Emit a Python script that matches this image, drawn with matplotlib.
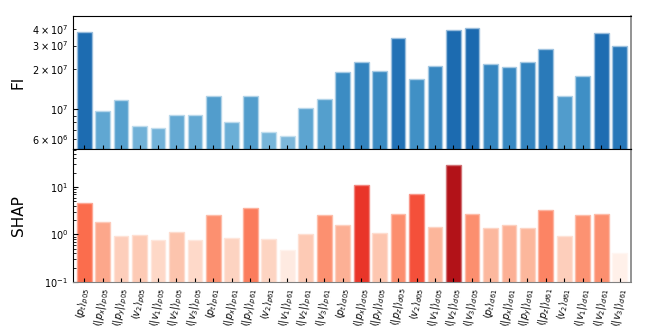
import matplotlib
matplotlib.use('Agg')

import matplotlib.pyplot as plt
import matplotlib.colors as mcolors
import numpy as np

# feature names: observable, then subscript
obs = ['p_t', '|p_x|', '|p_y|', 'v_2', '|v_1|', '|v_2|', '|v_3|',
       'p_t', '|p_x|', '|p_y|', 'v_2', '|v_1|', '|v_2|', '|v_3|',
       'p_t', '|p_x|', '|p_y|', '|p_z|', 'v_2', '|v_1|', '|v_2|', '|v_3|',
       'p_t', '|p_x|', '|p_y|', '|p_z|', 'v_2', '|v_1|', '|v_2|', '|v_3|']
subs = ['p05'] * 7 + ['p61'] * 7 + ['d05'] * 8 + ['d61'] * 8
labels = [r'$\langle %s\rangle_{%s}$' % (o, s) for o, s in zip(obs, subs)]

fi = [3.77e7, 9.66e6, 1.17e7, 7.45e6, 7.28e6, 9.12e6, 9.01e6,
      1.26e7, 8.03e6, 1.26e7, 6.8e6, 6.34e6, 1.03e7, 1.195e7,
      1.89e7, 2.28e7, 1.94e7, 3.42e7, 1.70e7, 2.12e7, 3.93e7, 4.09e7,
      2.17e7, 2.07e7, 2.26e7, 2.83e7, 1.27e7, 1.77e7, 3.71e7, 2.96e7]
shap = [4.68, 1.79, 0.91, 0.99, 0.78, 1.10, 0.76,
        2.61, 0.85, 3.67, 0.82, 0.48, 1.0, 2.61,
        1.55, 10.9, 1.07, 2.74, 7.11, 1.41, 28.8, 2.69,
        1.36, 1.55, 1.39, 3.22, 0.91, 2.56, 2.65, 0.40]

x = np.arange(len(labels))


def lognorm(v):
    v = np.log(np.array(v))
    return (v - v.min()) / (v.max() - v.min())


def lighten(c, f=0.55):
    c = np.array(mcolors.to_rgb(c))
    return tuple(c + (1 - c) * f)


c_fi = [plt.cm.Blues(0.46 + 0.32 * t) for t in lognorm(fi)]
c_sh = [plt.cm.Reds(0.03 + 0.80 * t) for t in lognorm(shap)]

fig = plt.figure(figsize=(6.64, 3.32), dpi=100)
ax1 = fig.add_axes([0.11, 0.551, 0.84, 0.401])
ax2 = fig.add_axes([0.11, 0.151, 0.84, 0.40], sharex=ax1)

ax1.bar(x, fi, width=0.8, color=c_fi, edgecolor=[lighten(c) for c in c_fi], linewidth=1.0)
ax2.bar(x, shap, width=0.8, color=c_sh, edgecolor=[lighten(c, 0.4) for c in c_sh], linewidth=1.0)

ax1.set_yscale('log')
ax1.set_ylim(5.05e6, 5.0e7)
ax2.set_yscale('log')
ax2.set_ylim(0.1, 63)
ax1.set_xlim(-0.6, len(labels) - 0.4)

ax1.set_ylabel('FI', fontsize=11)
ax2.set_ylabel('SHAP', fontsize=11)
ax1.yaxis.set_label_coords(-0.085, 0.5)
ax2.yaxis.set_label_coords(-0.085, 0.5)

for ax in (ax1, ax2):
    ax.tick_params(axis='both', which='both', direction='in', labelsize=7)
    ax.tick_params(axis='x', length=3)
    ax.spines['right'].set_color('gray')
    ax.spines['right'].set_linewidth(1.2)
ax2.spines['bottom'].set_color('gray')
ax1.tick_params(axis='x', labelbottom=False)
ax2.set_xticks(x)
ax2.set_xticklabels(labels, rotation=80, fontsize=7)

plt.savefig('out.png', dpi=100)
